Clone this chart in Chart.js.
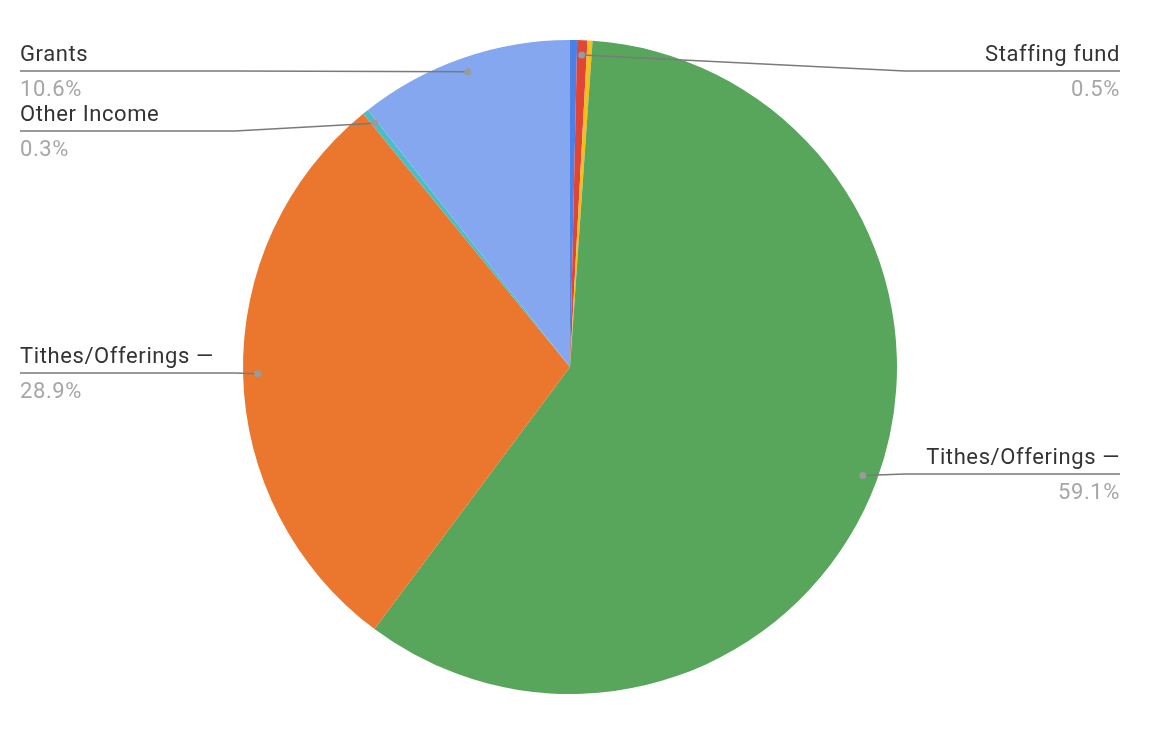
<!DOCTYPE html>
<html>
<head>
<meta charset="utf-8">
<script src="https://cdn.jsdelivr.net/npm/chart.js@4"></script>
<style>
  html, body { margin: 0; padding: 0; background: #fff; }
  #wrap { width: 1150px; height: 730px; }
</style>
</head>
<body>
<div id="wrap"><canvas id="pie" width="1150" height="730"></canvas></div>
<script>
// Income breakdown pie, slices clockwise from 12 o'clock
const categories = ['Unlabelled A', 'Staffing fund', 'Unlabelled B', 'Tithes/Offerings —', 'Tithes/Offerings —', 'Other Income', 'Grants'];
const shares = [0.35, 0.5, 0.25, 59.1, 28.9, 0.3, 10.6];
const pctLabels = ['', '0.5%', '', '59.1%', '28.9%', '0.3%', '10.6%'];
const colors = ['#4a80ea', '#e04535', '#f6bd1c', '#58a65c', '#eb772f', '#4bbdc5', '#84a7f0'];

// where each callout sits: side + y of its leader line (layout only)
const callouts = {
    1: { side: 'right', lineY: 71 },
    3: { side: 'right', lineY: 474 },
    4: { side: 'left', lineY: 373 },
    5: { side: 'left', lineY: 131 },
    6: { side: 'left', lineY: 71 },
};

const calloutPlugin = {
    id: 'callouts',
    afterDraw(chart) {
        const ctx = chart.ctx;
        const arcs = chart.getDatasetMeta(0).data;
        ctx.save();
        Object.keys(callouts).forEach((k) => {
            const i = +k;
            const c = callouts[i];
            const a = arcs[i];
            const mid = (a.startAngle + a.endAngle) / 2;
            const r = a.outerRadius * 0.955;
            const px = a.x + Math.cos(mid) * r;
            const py = a.y + Math.sin(mid) * r;
            const edge = c.side === 'left' ? 20 : 1120;
            const elbow = c.side === 'left' ? Math.min(235, px) : Math.max(905, px);

            ctx.strokeStyle = '#7a7a7a';
            ctx.lineWidth = 1.5;
            ctx.beginPath();
            ctx.moveTo(edge, c.lineY);
            ctx.lineTo(elbow, c.lineY);
            ctx.lineTo(px, py);
            ctx.stroke();

            ctx.fillStyle = '#9a9a9a';
            ctx.beginPath();
            ctx.arc(px, py, 3.5, 0, Math.PI * 2);
            ctx.fill();

            ctx.textAlign = c.side === 'left' ? 'left' : 'right';
            ctx.textBaseline = 'alphabetic';
            ctx.font = '22px Roboto, "Liberation Sans", Arial, sans-serif';
            ctx.letterSpacing = '0.6px';
            ctx.fillStyle = '#333333';
            ctx.fillText(categories[i], edge, c.lineY - 10);
            ctx.fillStyle = '#a6a6a6';
            ctx.fillText(pctLabels[i], edge, c.lineY + 25);
        });
        ctx.restore();
    },
};

new Chart(document.getElementById('pie'), {
    type: 'pie',
    data: {
        labels: categories,
        datasets: [{
            data: shares,
            backgroundColor: colors,
            borderWidth: 0,
        }],
    },
    options: {
        responsive: false,
        animation: false,
        layout: { padding: { left: 230, right: 240, top: 40, bottom: 36 } },
        plugins: {
            legend: { display: false },
            tooltip: { enabled: false },
        },
    },
    plugins: [calloutPlugin],
});
</script>
</body>
</html>
